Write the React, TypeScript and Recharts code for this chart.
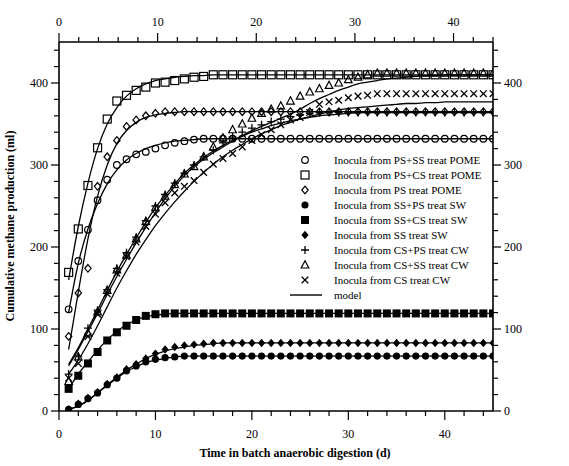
import React from 'react';
import { ComposedChart, Scatter, Line, XAxis, YAxis } from 'recharts';

// days 1..45
const days = [
  1, 2, 3, 4, 5, 6, 7, 8, 9, 10, 11, 12, 13, 14, 15, 16, 17, 18, 19, 20, 21, 22, 23,
  24, 25, 26, 27, 28, 29, 30, 31, 32, 33, 34, 35, 36, 37, 38, 39, 40, 41, 42, 43, 44, 45,
];

const xTicks = [0, 2, 4, 6, 8, 10, 12, 14, 16, 18, 20, 22, 24, 26, 28, 30, 32, 34, 36, 38, 40, 42, 44];
const yTicks = [0, 20, 40, 60, 80, 100, 120, 140, 160, 180, 200, 220, 240, 260, 280, 300, 320, 340, 360, 380, 400, 420, 440];

// measured points
const psssPome = [124, 183, 221, 257, 282, 300, 307, 313, 316, 320, 324, 327, 329, 331, 332, 332, 332, 332, 332, 332, 332, 332, 332, 332, 332, 332, 332, 332, 332, 332, 332, 332, 332, 332, 332, 332, 332, 332, 332, 332, 332, 332, 332, 332, 332];
const pscsPome = [169, 222, 275, 321, 356, 378, 385, 391, 395, 400, 401, 403, 405, 407, 408, 410, 410, 410, 410, 410, 410, 410, 410, 410, 410, 410, 410, 410, 410, 410, 410, 410, 410, 410, 410, 410, 410, 410, 410, 410, 410, 410, 410, 410, 410];
const psPome = [91, 144, 174, 274, 310, 330, 347, 355, 360, 363, 365, 365, 365, 365, 365, 365, 365, 365, 365, 365, 365, 365, 365, 365, 365, 365, 365, 365, 365, 365, 365, 365, 365, 365, 365, 365, 365, 365, 365, 365, 365, 365, 365, 365, 365];
const sspsSw = [2, 8, 15, 22, 32, 40, 49, 55, 60, 63, 65, 66, 67, 67, 67, 67, 67, 67, 67, 67, 67, 67, 67, 67, 67, 67, 67, 67, 67, 67, 67, 67, 67, 67, 67, 67, 67, 67, 67, 67, 67, 67, 67, 67, 67];
const sscsSw = [27, 43, 58, 72, 86, 96, 104, 111, 116, 118, 119, 119, 119, 119, 119, 119, 119, 119, 119, 119, 119, 119, 119, 119, 119, 119, 119, 119, 119, 119, 119, 119, 119, 119, 119, 119, 119, 119, 119, 119, 119, 119, 119, 119, 119];
const ssSw = [2, 9, 16, 23, 33, 41, 51, 57, 64, 70, 75, 78, 80, 81, 82, 83, 83, 83, 83, 83, 83, 83, 83, 83, 83, 83, 83, 83, 83, 83, 83, 83, 83, 83, 83, 83, 83, 83, 83, 83, 83, 83, 83, 83, 83];
const cspsCw = [45, 67, 101, 123, 148, 174, 193, 212, 232, 250, 264, 278, 290, 300, 310, 318, 327, 334, 340, 345, 349, 353, 356, 359, 361, 363, 364, 364, 364, 364, 364, 364, 364, 364, 364, 364, 364, 364, 364, 364, 364, 364, 364, 364, 364];
const csssCw = [36, 66, 95, 121, 147, 172, 190, 210, 231, 248, 262, 276, 289, 298, 310, 322, 333, 343, 350, 357, 363, 368, 372, 378, 384, 389, 393, 397, 400, 404, 407, 410, 412, 412, 412, 412, 412, 412, 412, 412, 412, 412, 412, 412, 412];
const csCw = [40, 58, 91, 118, 143, 168, 188, 206, 225, 240, 254, 266, 274, 281, 291, 301, 308, 314, 322, 330, 337, 343, 349, 355, 358, 364, 374, 377, 379, 382, 384, 385, 387, 387, 387, 387, 387, 387, 387, 387, 387, 387, 387, 387, 387];

// model curves
const mPsssPome = [120, 180, 222, 253, 277, 294, 306, 314, 320, 324, 327, 329, 330, 331, 332, 332, 332, 332, 332, 332, 332, 332, 332, 332, 332, 332, 332, 332, 332, 332, 332, 332, 332, 332, 332, 332, 332, 332, 332, 332, 332, 332, 332, 332, 332];
const mPscsPome = [160, 225, 278, 320, 350, 370, 384, 393, 399, 403, 405, 407, 408, 409, 409, 410, 410, 410, 410, 410, 410, 410, 410, 410, 410, 410, 410, 410, 410, 410, 410, 410, 410, 410, 410, 410, 410, 410, 410, 410, 410, 410, 410, 410, 410];
const mPsPome = [75, 145, 210, 262, 300, 326, 342, 352, 358, 361, 363, 364, 365, 365, 365, 365, 365, 365, 365, 365, 365, 365, 365, 365, 365, 365, 365, 365, 365, 365, 365, 365, 365, 365, 365, 365, 365, 365, 365, 365, 365, 365, 365, 365, 365];
const mSspsSw = [2, 6, 13, 22, 31, 40, 48, 54, 59, 62, 64, 66, 67, 67, 67, 67, 67, 67, 67, 67, 67, 67, 67, 67, 67, 67, 67, 67, 67, 67, 67, 67, 67, 67, 67, 67, 67, 67, 67, 67, 67, 67, 67, 67, 67];
const mSscsSw = [27, 45, 60, 74, 87, 97, 105, 111, 115, 117, 118, 119, 119, 119, 119, 119, 119, 119, 119, 119, 119, 119, 119, 119, 119, 119, 119, 119, 119, 119, 119, 119, 119, 119, 119, 119, 119, 119, 119, 119, 119, 119, 119, 119, 119];
const mSsSw = [2, 6, 13, 22, 32, 41, 50, 57, 64, 69, 73, 76, 78, 80, 81, 82, 83, 83, 83, 83, 83, 83, 83, 83, 83, 83, 83, 83, 83, 83, 83, 83, 83, 83, 83, 83, 83, 83, 83, 83, 83, 83, 83, 83, 83];
const mCspsCw = [57, 77, 100, 123, 147, 170, 191, 211, 230, 248, 263, 277, 290, 300, 309, 317, 324, 330, 335, 340, 344, 348, 351, 354, 356, 358, 360, 361, 362, 363, 364, 364, 364, 364, 364, 364, 364, 364, 364, 364, 364, 364, 364, 364, 364];
const mCsssCw = [55, 75, 97, 119, 142, 164, 185, 205, 224, 242, 259, 274, 287, 298, 307, 315, 322, 329, 336, 342, 347, 352, 357, 362, 368, 375, 381, 386, 391, 395, 399, 401, 403, 405, 406, 407, 408, 409, 409, 410, 410, 410, 410, 410, 410];
const mCsCw = [45, 62, 82, 104, 127, 150, 171, 191, 209, 226, 241, 255, 268, 280, 291, 301, 310, 318, 325, 332, 338, 343, 348, 352, 356, 359, 362, 365, 367, 369, 370, 371, 372, 373, 374, 375, 375, 376, 376, 377, 377, 377, 377, 377, 377];

type Kind = 'oc' | 'os' | 'od' | 'fc' | 'fs' | 'fd' | 'plus' | 'tri' | 'x';

const series: { key: string; name: string; kind: Kind; vals: number[]; model: number[] }[] = [
  { key: 'psssPome', name: 'Inocula from PS+SS treat POME', kind: 'oc', vals: psssPome, model: mPsssPome },
  { key: 'pscsPome', name: 'Inocula from PS+CS treat POME', kind: 'os', vals: pscsPome, model: mPscsPome },
  { key: 'psPome', name: 'Inocula from PS treat POME', kind: 'od', vals: psPome, model: mPsPome },
  { key: 'sspsSw', name: 'Inocula from SS+PS treat SW', kind: 'fc', vals: sspsSw, model: mSspsSw },
  { key: 'sscsSw', name: 'Inocula from SS+CS treat SW', kind: 'fs', vals: sscsSw, model: mSscsSw },
  { key: 'ssSw', name: 'Inocula from SS treat SW', kind: 'fd', vals: ssSw, model: mSsSw },
  { key: 'cspsCw', name: 'Inocula from CS+PS treat CW', kind: 'plus', vals: cspsCw, model: mCspsCw },
  { key: 'csssCw', name: 'Inocula from CS+SS treat CW', kind: 'tri', vals: csssCw, model: mCsssCw },
  { key: 'csCw', name: 'Inocula from CS treat CW', kind: 'x', vals: csCw, model: mCsCw },
];

const rows = days.map((d, i) => {
  const r: Record<string, number> = { day: d };
  series.forEach((s) => {
    r[s.key] = s.vals[i];
    r['m_' + s.key] = s.model[i];
  });
  return r;
});

const FONT = '"Liberation Serif", "Times New Roman", serif';

function Marker({ kind, cx, cy }: { kind: Kind; cx: number; cy: number }) {
  const sw = 1.2;
  switch (kind) {
    case 'oc':
      return <circle cx={cx} cy={cy} r={3.3} fill="none" stroke="#000" strokeWidth={sw} />;
    case 'os':
      return <rect x={cx - 4} y={cy - 4} width={8} height={8} fill="none" stroke="#000" strokeWidth={sw} />;
    case 'od':
      return (
        <polygon
          points={`${cx},${cy - 3.8} ${cx + 3.2},${cy} ${cx},${cy + 3.8} ${cx - 3.2},${cy}`}
          fill="none"
          stroke="#000"
          strokeWidth={sw}
        />
      );
    case 'fc':
      return <circle cx={cx} cy={cy} r={3.6} fill="#000" />;
    case 'fs':
      return <rect x={cx - 4} y={cy - 4} width={8} height={8} fill="#000" />;
    case 'fd':
      return <polygon points={`${cx},${cy - 4.2} ${cx + 3.6},${cy} ${cx},${cy + 4.2} ${cx - 3.6},${cy}`} fill="#000" />;
    case 'plus':
      return (
        <path d={`M${cx - 4},${cy}H${cx + 4}M${cx},${cy - 4}V${cy + 4}`} stroke="#000" strokeWidth={1.3} fill="none" />
      );
    case 'tri':
      return (
        <polygon
          points={`${cx},${cy - 4.2} ${cx + 3.8},${cy + 3} ${cx - 3.8},${cy + 3}`}
          fill="none"
          stroke="#000"
          strokeWidth={sw}
        />
      );
    case 'x':
      return (
        <path
          d={`M${cx - 3.3},${cy - 3.3}L${cx + 3.3},${cy + 3.3}M${cx - 3.3},${cy + 3.3}L${cx + 3.3},${cy - 3.3}`}
          stroke="#000"
          strokeWidth={1.3}
          fill="none"
        />
      );
  }
  return null;
}

const XTick = (props: any) => {
  const { x, y, payload, top } = props;
  const major = payload.value % 10 === 0;
  const len = major ? 9 : 5;
  const dir = top ? -1 : 1;
  return (
    <g>
      <line x1={x} x2={x} y1={y} y2={y + dir * len} stroke="#000" strokeWidth={1.2} />
      {major && (
        <text x={x} y={top ? y - 16 : y + 27} textAnchor="middle" fontFamily={FONT} fontSize={12} fill="#000">
          {payload.value}
        </text>
      )}
    </g>
  );
};

const YTick = (props: any) => {
  const { x, y, payload, right } = props;
  const major = payload.value % 100 === 0;
  const len = major ? 8 : 5;
  const dir = right ? 1 : -1;
  return (
    <g>
      <line x1={x} x2={x + dir * len} y1={y} y2={y} stroke="#000" strokeWidth={1.2} />
      {major && (
        <text
          x={right ? x + 11 : x - 11}
          y={y + 4}
          textAnchor={right ? 'start' : 'end'}
          fontFamily={FONT}
          fontSize={12}
          fill="#000"
        >
          {payload.value}
        </text>
      )}
    </g>
  );
};

// legend drawn inside the svg, top-left of its box at (290, 152)
const legendBox = () => (
  <g transform="translate(290,152)">
    {series.map((s, i) => (
      <g key={s.key}>
        <Marker kind={s.kind} cx={15} cy={8 + i * 15} />
        <text x={44} y={12 + i * 15} fontFamily={FONT} fontSize={11} fill="#000">
          {s.name}
        </text>
      </g>
    ))}
    <line x1={0} x2={32} y1={8 + 9 * 15} y2={8 + 9 * 15} stroke="#000" strokeWidth={1.4} />
    <text x={44} y={12 + 9 * 15} fontFamily={FONT} fontSize={11} fill="#000">
      model
    </text>
  </g>
);

export default function App() {
  return (
    <div style={{ position: 'absolute', left: 0, top: 0, width: 569, height: 466, background: '#fff' }}>
      <ComposedChart width={569} height={466} data={rows} margin={{ top: 0, right: 0, bottom: 0, left: 0 }}>
        <XAxis
          dataKey="day"
          type="number"
          domain={[0, 45]}
          allowDataOverflow
          ticks={xTicks}
          interval={0}
          height={55}
          tickSize={0}
          tickMargin={0}
          tickLine={false}
          axisLine={{ stroke: '#000', strokeWidth: 1.6 }}
          tick={(p: any) => <XTick {...p} />}
          label={{
            content: () => (
              <text x={295} y={457} textAnchor="middle" fontFamily={FONT} fontSize={12} fontWeight="bold" fill="#000">
                Time in batch anaerobic digestion (d)
              </text>
            ),
          }}
        />
        <XAxis
          xAxisId="top"
          orientation="top"
          type="number"
          domain={[0, 45]}
          allowDataOverflow
          ticks={xTicks}
          interval={0}
          height={42}
          tickSize={0}
          tickMargin={0}
          tickLine={false}
          axisLine={{ stroke: '#000', strokeWidth: 1.6 }}
          tick={(p: any) => <XTick {...p} top />}
        />
        <YAxis
          type="number"
          domain={[0, 450]}
          allowDataOverflow
          ticks={yTicks}
          interval={0}
          width={59}
          tickSize={0}
          tickMargin={0}
          tickLine={false}
          axisLine={{ stroke: '#000', strokeWidth: 1.6 }}
          tick={(p: any) => <YTick {...p} />}
          label={{
            content: () => (
              <text
                x={0}
                y={0}
                transform="translate(14,226) rotate(-90)"
                textAnchor="middle"
                fontFamily={FONT}
                fontSize={12}
                fontWeight="bold"
                fill="#000"
              >
                Cumulative methane production (ml)
              </text>
            ),
          }}
        />
        <YAxis
          yAxisId="right"
          orientation="right"
          type="number"
          domain={[0, 450]}
          allowDataOverflow
          ticks={yTicks}
          interval={0}
          width={76}
          tickSize={0}
          tickMargin={0}
          tickLine={false}
          axisLine={{ stroke: '#000', strokeWidth: 1.6 }}
          tick={(p: any) => <YTick {...p} right />}
          label={{ content: legendBox }}
        />
        {series.map((s) => (
          <Scatter
            key={s.key}
            dataKey={s.key}
            isAnimationActive={false}
            shape={(p: any) => <Marker kind={s.kind} cx={p.cx} cy={p.cy} />}
          />
        ))}
        {series.map((s) => (
          <Line
            key={'m_' + s.key}
            dataKey={'m_' + s.key}
            type="monotone"
            stroke="#000"
            strokeWidth={1.3}
            dot={false}
            activeDot={false}
            isAnimationActive={false}
          />
        ))}
      </ComposedChart>
    </div>
  );
}
